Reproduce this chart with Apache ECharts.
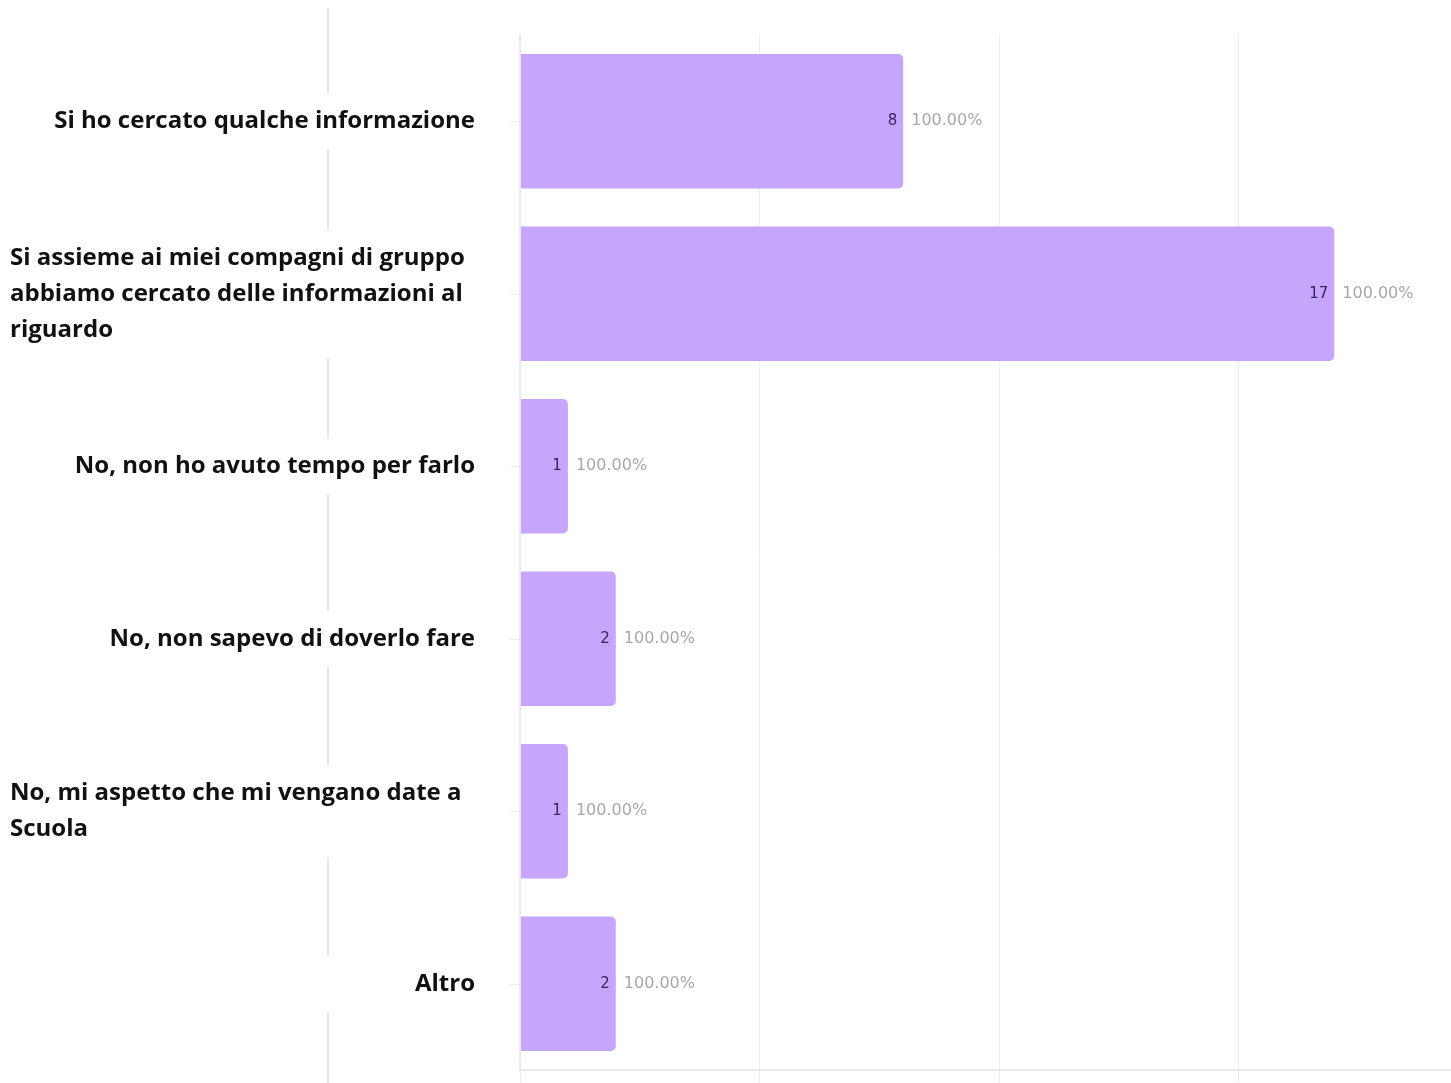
<!DOCTYPE html>
<html>
<head>
<meta charset="utf-8">
<script src="https://cdn.jsdelivr.net/npm/echarts@6/dist/echarts.min.js"></script>
<style>html,body{margin:0;padding:0;background:#fff}#c{width:1451px;height:1083px}</style>
</head>
<body>
<div id="c"></div>
<script>
const categories = [
  'Si ho cercato qualche informazione',
  'Si assieme ai miei compagni di gruppo\nabbiamo cercato delle informazioni al\nriguardo',
  'No, non ho avuto tempo per farlo',
  'No, non sapevo di doverlo fare',
  'No, mi aspetto che mi vengano date a\nScuola',
  'Altro'
];
const counts = [8, 17, 1, 2, 1, 2];
const percents = ['100.00%', '100.00%', '100.00%', '100.00%', '100.00%', '100.00%'];

const chart = echarts.init(document.getElementById('c'), null, {renderer: 'canvas'});
const labelFont = {fontFamily: 'Open Sans', fontWeight: 'bold', fontSize: 24, lineHeight: 36, color: '#111'};
chart.setOption({
  animation: false,
  backgroundColor: '#fff',
  graphic: [{
    type: 'line', z: 0, silent: true,
    shape: {x1: 328, y1: 8, x2: 328, y2: 1083},
    style: {stroke: '#e6e6ea', lineWidth: 2}
  }],
  grid: {left: 520, width: 958, top: 35, bottom: 13, containLabel: false, outerBoundsMode: 'none'},
  xAxis: {
    type: 'value', min: 0, max: 20, interval: 5,
    axisLine: {show: true, lineStyle: {color: '#e8e8ee', width: 2}},
    axisTick: {show: true, length: 12, lineStyle: {color: '#e8e8ee'}},
    axisLabel: {show: false},
    splitLine: {show: true, lineStyle: {color: '#ececf2', width: 1}}
  },
  yAxis: {
    type: 'category', data: categories, inverse: true, z: 5,
    axisLine: {show: true, lineStyle: {color: '#e8e8ee', width: 2}},
    axisTick: {show: true, alignWithLabel: true, length: 10, lineStyle: {color: '#ececf0'}},
    axisLabel: {
      margin: 45, width: 465, backgroundColor: '#fff', padding: [10, 0],
      formatter: function (v) {
        if (v.indexOf('\n') >= 0) return v.split('\n').map(s => '{l|' + s + '}').join('\n');
        return '{r|' + v + '}';
      },
      rich: {
        l: Object.assign({align: 'left'}, labelFont),
        r: Object.assign({align: 'right'}, labelFont)
      }
    }
  },
  series: [
    {
      type: 'bar', data: counts, barWidth: '78%', z: 2,
      itemStyle: {color: '#c6a6fd', borderRadius: [0, 5, 5, 0]},
      label: {
        show: true, position: 'insideRight', distance: 6,
        fontFamily: 'DejaVu Sans', fontSize: 15, color: '#35275a'
      }
    },
    {
      type: 'bar', data: counts, barWidth: '78%', barGap: '-100%', z: 3,
      itemStyle: {color: 'rgba(0,0,0,0)'},
      label: {
        show: true, position: 'right', distance: 8,
        fontFamily: 'DejaVu Sans', fontSize: 16, color: '#a6a6b0',
        formatter: p => percents[p.dataIndex]
      }
    }
  ]
});
</script>
</body>
</html>
